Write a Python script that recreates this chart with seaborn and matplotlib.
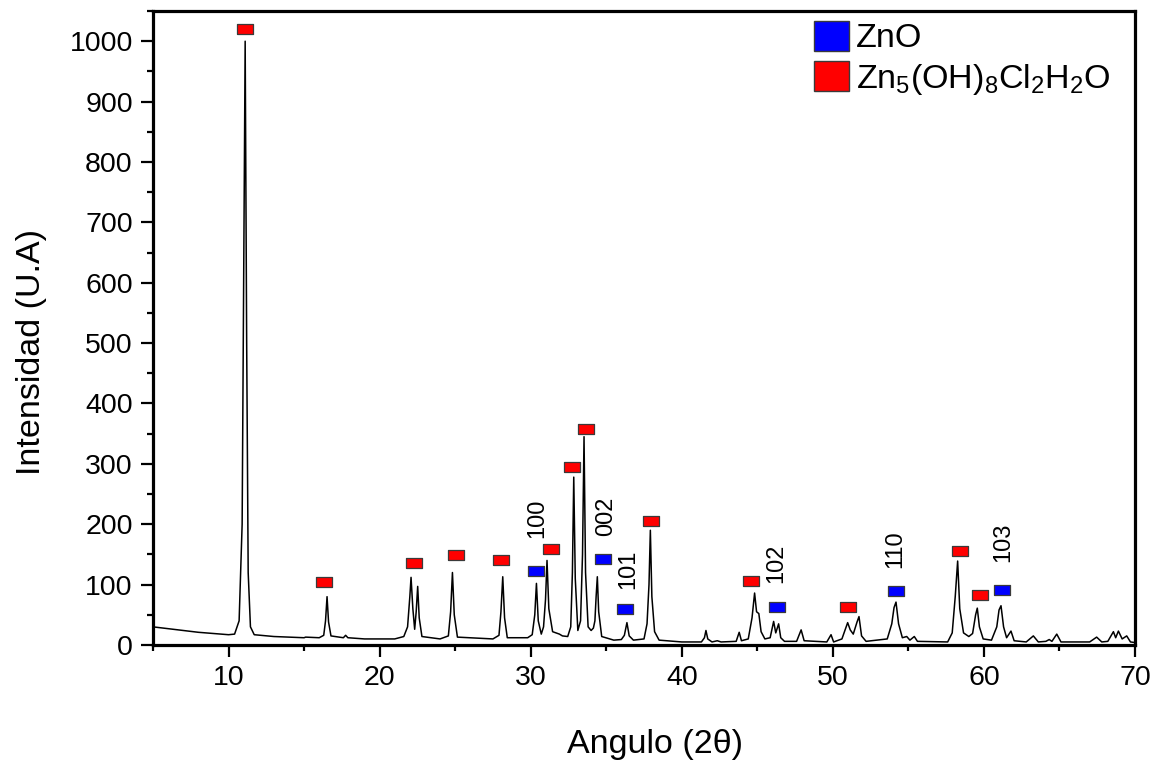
import matplotlib
matplotlib.use("Agg")
import matplotlib.pyplot as plt
from matplotlib.patches import Patch
from matplotlib.ticker import MultipleLocator
import pandas as pd
import seaborn as sns

# ==============================
# Datos (leidos del difractograma)
# ==============================
two_theta = [
    5.0, 6.0, 7.0, 8.0, 9.0, 10.0, 10.4, 10.7, 10.9, 11.0, 11.1, 11.2, 11.3, 11.45, 11.7,
    13.0, 15.0, 15.1, 16.0, 16.3, 16.42, 16.52, 16.62, 16.78, 17.6, 17.75, 17.9, 19.0,
    21.0, 21.6, 21.85, 22.0, 22.08, 22.2, 22.32, 22.42, 22.52, 22.62, 22.8,
    24.0, 24.55, 24.7, 24.82, 24.94, 25.15, 27.5, 27.9, 28.03, 28.15, 28.27, 28.45,
    29.8, 30.1, 30.27, 30.38, 30.5, 30.7, 30.85, 30.98, 31.08, 31.2, 31.45, 31.9, 32.1,
    32.45, 32.65, 32.76, 32.85, 32.95, 33.12, 33.3, 33.43, 33.53, 33.63, 33.8, 34.0,
    34.15, 34.25, 34.33, 34.41, 34.5, 34.7, 35.5, 36.0, 36.2, 36.37, 36.52, 36.8,
    37.5, 37.7, 37.83, 37.92, 38.02, 38.2, 38.5, 40.0, 41.3, 41.5, 41.6, 41.72, 42.0,
    42.35, 42.6, 43.6, 43.8, 43.95, 44.4, 44.65, 44.82, 44.95, 45.1, 45.25, 45.5,
    45.85, 46.08, 46.22, 46.41, 46.55, 46.8, 47.6, 47.9, 48.1, 49.6, 49.88, 50.05,
    50.6, 50.85, 50.98, 51.15, 51.35, 51.6, 51.73, 51.9, 52.2, 53.6, 53.9, 54.05,
    54.18, 54.35, 54.6, 54.89, 55.1, 55.39, 55.6, 57.6, 57.9, 58.1, 58.26, 58.4,
    58.65, 59.0, 59.25, 59.45, 59.56, 59.7, 59.95, 60.5, 60.85, 61.0, 61.13, 61.3,
    61.5, 61.79, 62.0, 62.8, 63.27, 63.6, 64.1, 64.32, 64.5, 64.82, 65.1, 67.0,
    67.46, 67.8, 68.2, 68.57, 68.72, 68.9, 69.15, 69.45, 69.7, 70.0,
]
intensity = [
    30, 27, 24, 21, 19, 17, 18, 40, 200, 600, 1000, 500, 120, 30, 17,
    14, 12, 13, 12, 16, 40, 80, 38, 15, 12, 16, 12, 10,
    10, 14, 30, 80, 112, 60, 26, 55, 97, 45, 14,
    10, 15, 55, 120, 50, 13, 10, 16, 55, 113, 45, 12,
    12, 17, 50, 102, 40, 18, 30, 75, 140, 60, 22, 18, 15,
    14, 30, 120, 278, 110, 24, 40, 150, 345, 120, 30, 24,
    28, 40, 80, 113, 55, 14, 8, 9, 16, 37, 15, 8,
    10, 35, 100, 190, 80, 22, 8, 5, 5, 12, 24, 10, 5,
    7, 5, 6, 21, 7, 10, 45, 86, 55, 52, 22, 10,
    12, 39, 20, 35, 12, 6, 6, 25, 7, 5, 17, 5,
    10, 28, 37, 25, 18, 38, 47, 15, 6, 10, 35, 62,
    71, 35, 12, 14, 8, 14, 6, 5, 20, 80, 139, 60,
    20, 14, 19, 50, 61, 30, 10, 8, 30, 58, 65, 30,
    12, 23, 7, 5, 15, 5, 6, 9, 6, 18, 5, 5,
    13, 5, 6, 22, 12, 23, 10, 15, 5, 4,
]

# marcadores de fase
zhc_x = [11.09, 16.32, 22.27, 25.06, 28.03, 31.34, 32.73, 33.66, 37.96, 44.58, 51.0, 58.41, 59.74]
zhc_y = [1021, 104, 136, 149, 141, 159, 295, 358, 206, 106, 63, 156, 83]
zno_x = [30.35, 34.79, 36.24, 46.3, 54.18, 61.2]
zno_y = [123, 143, 60, 63, 90, 91]

# indices de Miller (ZnO)
hkl_labels = ["100", "002", "101", "102", "110", "103"]
hkl_x = [30.42, 34.98, 36.44, 46.28, 54.1, 61.3]
hkl_y = [177, 180, 93, 102, 127, 138]

df = pd.DataFrame({"two_theta": two_theta, "intensity": intensity})
df_zhc = pd.DataFrame({"x": zhc_x, "y": zhc_y})
df_zno = pd.DataFrame({"x": zno_x, "y": zno_y})

# ==============================
# Estilo
# ==============================
sns.set_style("ticks")
plt.rcParams["font.family"] = ["Liberation Sans", "DejaVu Sans"]
plt.rcParams["mathtext.default"] = "regular"
for k in ["text.color", "axes.labelcolor", "xtick.color", "ytick.color", "axes.edgecolor"]:
    plt.rcParams[k] = "black"

fig = plt.figure(figsize=(11.53, 7.65), dpi=100)
ax = fig.add_axes([0.1327, 0.1569, 0.8517, 0.8287])

sns.lineplot(data=df, x="two_theta", y="intensity", ax=ax, color="black",
             linewidth=1.1, sort=False, estimator=None, zorder=2)

rect = [(-1.5, -1), (1.5, -1), (1.5, 1), (-1.5, 1), (-1.5, -1)]
sns.scatterplot(data=df_zhc, x="x", y="y", ax=ax, marker=rect, s=117,
                color="#ff0000", edgecolor="#3a3a3a", linewidth=0.9, zorder=3)
sns.scatterplot(data=df_zno, x="x", y="y", ax=ax, marker=rect, s=117,
                color="#0000ff", edgecolor="#3a3a3a", linewidth=0.9, zorder=3)

for lab, xx, yy in zip(hkl_labels, hkl_x, hkl_y):
    ax.text(xx, yy, lab, rotation=90, ha="center", va="bottom", fontsize=17)

# ==============================
# Ejes
# ==============================
ax.set_xlim(5, 70)
ax.set_ylim(0, 1050)
ax.xaxis.set_major_locator(MultipleLocator(10))
ax.xaxis.set_minor_locator(MultipleLocator(5))
ax.yaxis.set_major_locator(MultipleLocator(100))
ax.yaxis.set_minor_locator(MultipleLocator(50))
ax.xaxis.set_ticks_position("bottom")
ax.yaxis.set_ticks_position("left")
ax.tick_params(which="major", direction="out", length=8.5, width=1.6,
               labelsize=20.5, pad=6)
ax.tick_params(which="minor", direction="out", length=4.5, width=1.6)
for sp in ax.spines.values():
    sp.set_linewidth(2.3)
    sp.set_visible(True)

ax.set_xlabel("Angulo (2θ)", fontsize=24.5)
ax.set_ylabel("Intensidad (U.A)", fontsize=24.5)
ax.xaxis.set_label_coords(0.511, -0.132)
ax.yaxis.set_label_coords(-0.108, 0.462)

handles = [
    Patch(facecolor="#0000ff", edgecolor="#3a3a3a", linewidth=1, label="ZnO"),
    Patch(facecolor="#ff0000", edgecolor="#3a3a3a", linewidth=1,
          label=r"Zn$_5$(OH)$_8$Cl$_2$H$_2$O"),
]
ax.legend(handles=handles, loc="upper left", bbox_to_anchor=(0.673, 0.985),
          frameon=False, fontsize=24.5, handlelength=1.04, handleheight=0.98,
          handletextpad=0.2, labelspacing=0.2, borderpad=0, borderaxespad=0)

plt.savefig("out.png", dpi=100)
